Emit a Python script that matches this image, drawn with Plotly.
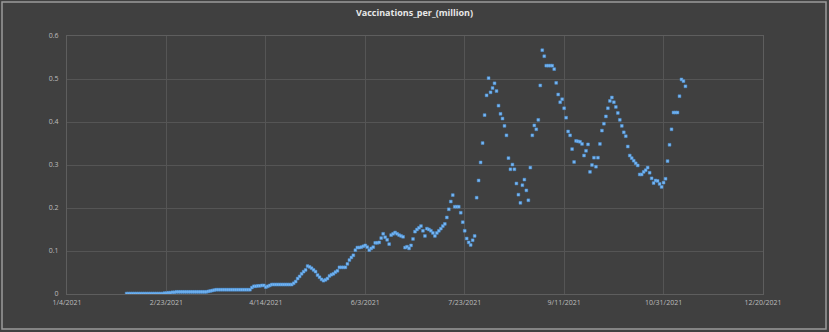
import plotly.graph_objects as go
import pandas as pd

title_text = "Vaccinations_per_(million)"
start_date = "2021-02-03"
values = [
    0.001, 0.001, 0.001, 0.001, 0.001, 0.001, 0.001, 0.001, 0.001, 0.001,
    0.001, 0.001, 0.001, 0.001, 0.001, 0.001, 0.001, 0.001, 0.001, 0.002,
    0.002, 0.003, 0.003, 0.004, 0.004, 0.005, 0.005, 0.005, 0.005, 0.005,
    0.005, 0.005, 0.005, 0.005, 0.005, 0.005, 0.005, 0.005, 0.005, 0.005,
    0.005, 0.006, 0.007, 0.008, 0.009, 0.010, 0.010, 0.010, 0.010, 0.010,
    0.010, 0.010, 0.010, 0.010, 0.010, 0.010, 0.010, 0.010, 0.010, 0.010,
    0.010, 0.010, 0.010, 0.015, 0.018, 0.018, 0.019, 0.019, 0.020, 0.020,
    0.016, 0.018, 0.020, 0.022, 0.022, 0.022, 0.022, 0.022, 0.022, 0.022,
    0.022, 0.022, 0.022, 0.022, 0.025, 0.029, 0.036, 0.041, 0.047, 0.052,
    0.056, 0.065, 0.063, 0.060, 0.056, 0.052, 0.044, 0.039, 0.034, 0.031,
    0.033, 0.036, 0.042, 0.045, 0.047, 0.051, 0.054, 0.062, 0.062, 0.062,
    0.062, 0.070, 0.079, 0.085, 0.090, 0.102, 0.108, 0.108, 0.109, 0.111,
    0.113, 0.109, 0.102, 0.106, 0.109, 0.119, 0.119, 0.120, 0.130, 0.140,
    0.132, 0.126, 0.116, 0.137, 0.140, 0.143, 0.140, 0.137, 0.135, 0.133,
    0.108, 0.110, 0.106, 0.113, 0.128, 0.145, 0.150, 0.154, 0.158, 0.147,
    0.135, 0.152, 0.150, 0.147, 0.142, 0.135, 0.142, 0.147, 0.152, 0.158,
    0.163, 0.178, 0.197, 0.215, 0.230, 0.203, 0.203, 0.203, 0.189, 0.167,
    0.147, 0.129, 0.120, 0.114, 0.125, 0.135, 0.224, 0.264, 0.306, 0.351,
    0.416, 0.462, 0.502, 0.469, 0.479, 0.490, 0.472, 0.438, 0.419, 0.408,
    0.391, 0.369, 0.316, 0.290, 0.301, 0.290, 0.257, 0.231, 0.212, 0.253,
    0.266, 0.241, 0.218, 0.294, 0.369, 0.392, 0.383, 0.405, 0.485, 0.567,
    0.553, 0.531, 0.531, 0.531, 0.531, 0.523, 0.491, 0.464, 0.446, 0.453,
    0.432, 0.410, 0.378, 0.369, 0.337, 0.307, 0.356, 0.355, 0.354, 0.349,
    0.322, 0.333, 0.348, 0.284, 0.300, 0.317, 0.296, 0.317, 0.349, 0.380,
    0.396, 0.413, 0.432, 0.449, 0.457, 0.446, 0.435, 0.421, 0.405, 0.391,
    0.376, 0.367, 0.343, 0.322, 0.316, 0.310, 0.304, 0.299, 0.278, 0.278,
    0.284, 0.288, 0.294, 0.282, 0.269, 0.258, 0.264, 0.263, 0.256, 0.249,
    0.259, 0.268, 0.309, 0.347, 0.383, 0.422, 0.422, 0.422, 0.460, 0.499,
    0.495, 0.483,
]
x_tick_dates = ["2021-01-04", "2021-02-23", "2021-04-14", "2021-06-03",
                "2021-07-23", "2021-09-11", "2021-10-31", "2021-12-20"]
x_tick_labels = ["1/4/2021", "2/23/2021", "4/14/2021", "6/3/2021",
                 "7/23/2021", "9/11/2021", "10/31/2021", "12/20/2021"]
y_tick_vals = [0, 0.1, 0.2, 0.3, 0.4, 0.5, 0.6]
y_tick_labels = ["0", "0.1", "0.2", "0.3", "0.4", "0.5", "0.6"]

dates = pd.date_range(start=start_date, periods=len(values), freq="D")

W, H = 829, 332
ml, mr, mt, mb = 67, 66, 36, 38
pw, ph = W - ml - mr, H - mt - mb

fig = go.Figure()
fig.add_trace(go.Scatter(
    x=dates, y=values, mode="markers",
    marker=dict(symbol="square", size=2.8, color="#78b8f4",
                line=dict(width=0.5, color="#4d92d8")),
    showlegend=False, hoverinfo="x+y",
))

grid = "#555555"
fig.update_layout(
    width=W, height=H,
    margin=dict(l=ml, r=mr, t=mt, b=mb, pad=0),
    paper_bgcolor="#404040", plot_bgcolor="#404040",
    font=dict(family="Open Sans, Liberation Sans, sans-serif", color="#bdbdbd", size=7),
    title=dict(text="<b>" + title_text + "</b>", x=0.5, xanchor="center",
               y=1 - 13 / H, yanchor="middle",
               font=dict(size=9, color="#e8e8e8", family="Open Sans, sans-serif")),
    xaxis=dict(
        type="date", range=[x_tick_dates[0], x_tick_dates[-1]],
        tickvals=x_tick_dates, ticktext=x_tick_labels,
        showgrid=True, gridcolor=grid, gridwidth=1,
        showline=True, linecolor="#5e5e5e", linewidth=1, mirror=True,
        ticks="outside", ticklen=2, tickcolor="rgba(0,0,0,0)",
        zeroline=False, tickfont=dict(size=7, color="#bdbdbd"),
        fixedrange=True,
    ),
    yaxis=dict(
        range=[0, 0.6], tickvals=y_tick_vals, ticktext=y_tick_labels,
        showgrid=True, gridcolor=grid, gridwidth=1,
        showline=True, linecolor="#5e5e5e", linewidth=1, mirror=True,
        ticks="outside", ticklen=6, tickcolor="rgba(0,0,0,0)",
        zeroline=False, tickfont=dict(size=7, color="#bdbdbd"),
        fixedrange=True,
    ),
)

# outer frame around the whole chart
fig.add_shape(type="rect", xref="paper", yref="paper",
              x0=(2 - ml) / pw, x1=(826 - ml) / pw,
              y0=(H - mb - 329) / ph, y1=(H - mb - 2) / ph,
              line=dict(color="#9a9a9a", width=1.5), fillcolor="rgba(0,0,0,0)",
              layer="below")

fig.write_html("out.html", config={"displayModeBar": False},
               post_script="document.body.style.margin='0';document.body.style.overflow='hidden';")
